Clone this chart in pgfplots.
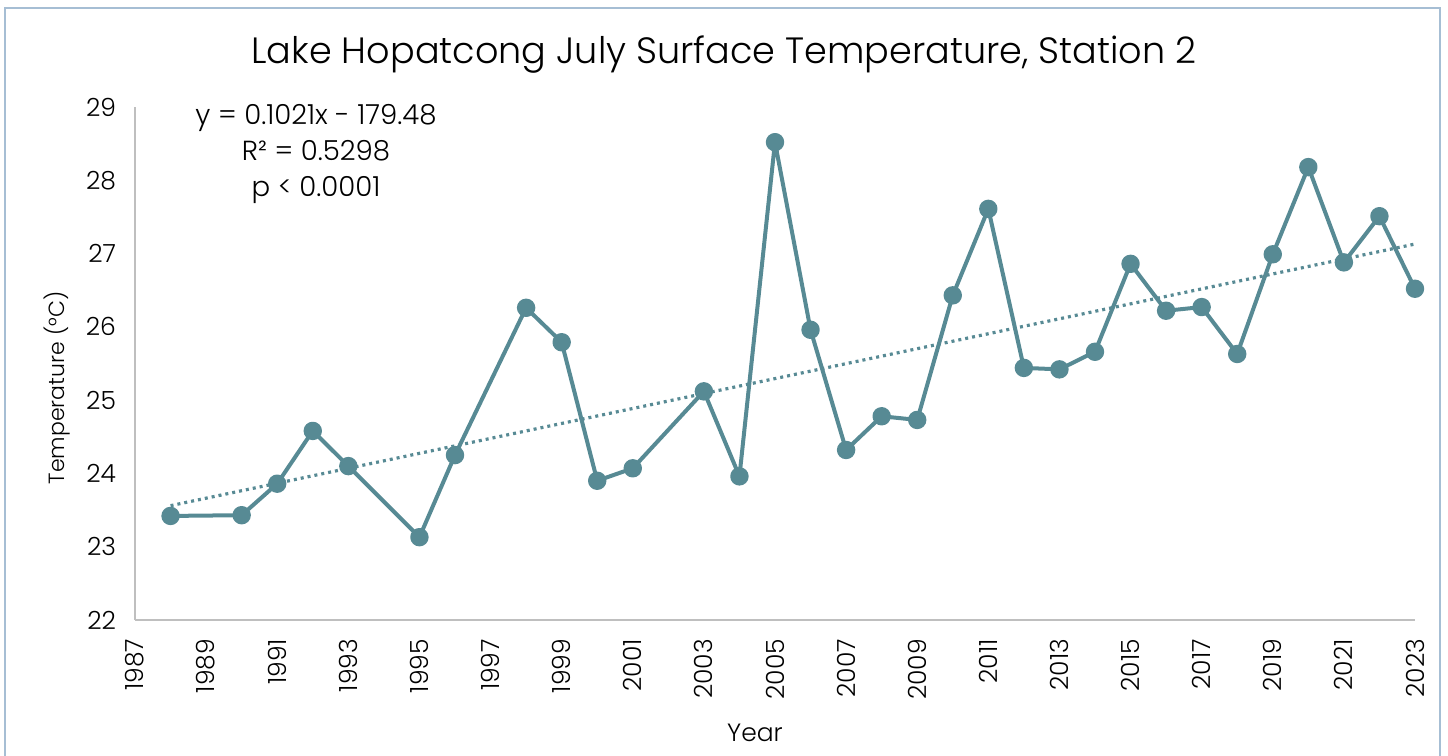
\documentclass[border=0pt]{standalone}
\usepackage{pgfplots}
\pgfplotsset{compat=1.18}
\usepackage{fontspec}
\setmainfont{Poppins}[UprightFont=* Light]
\definecolor{ser}{RGB}{87,138,148}
\definecolor{axg}{RGB}{191,191,191}
\definecolor{brd}{RGB}{166,190,212}
\begin{document}
\begin{tikzpicture}[x=1pt,y=1pt]
\path[use as bounding box] (0,0) rectangle (724,378);
\draw[brd,line width=1.2pt] (2.5,-5) -- (2.5,374) -- (720,374) -- (720,-5);
\begin{axis}[
  at={(67.5pt,68pt)}, anchor=south west,
  scale only axis, width=640pt, height=256.5pt,
  xmin=1987, xmax=2023, ymin=22, ymax=29,
  xtick={1987,1989,...,2023}, ytick={22,23,...,29},
  axis x line*=bottom, axis y line*=left,
  axis line style={axg, line width=0.8pt},
  major tick length=0pt,
  x tick label style={rotate=90, anchor=east, font=\fontsize{12.5}{14}\selectfont, xshift=-6pt},
  y tick label style={font=\fontsize{12.5}{14}\selectfont, xshift=-6pt},
  /pgf/number format/assume math mode=true,
  /pgf/number format/set thousands separator={},
  clip=false,
]
\addplot[ser, line width=2pt, line join=round, mark=*, mark size=3.6pt, mark options={fill=ser, draw=ser}] coordinates {
(1988,23.42) (1990,23.43) (1991,23.86) (1992,24.58) (1993,24.10) (1995,23.13)
(1996,24.25) (1998,26.26) (1999,25.79) (2000,23.90) (2001,24.07) (2003,25.12)
(2004,23.96) (2005,28.52) (2006,25.96) (2007,24.32) (2008,24.78) (2009,24.73)
(2010,26.43) (2011,27.61) (2012,25.44) (2013,25.42) (2014,25.66) (2015,26.86)
(2016,26.22) (2017,26.27) (2018,25.63) (2019,26.99) (2020,28.18) (2021,26.88)
(2022,27.51) (2023,26.52)
};
\addplot[ser, line width=1.6pt, dash pattern=on 1.5pt off 2pt, no marks] coordinates {(1988,23.56) (2023,27.13)};
\end{axis}
\node[font=\fontsize{18.3}{22}\selectfont] at (362,350.5) {Lake Hopatcong July Surface Temperature, Station 2};
\node[font=\fontsize{13.8}{18}\selectfont, align=center] at (158,301) {y = 0.1021x - 179.48\\R² = 0.5298\\p < 0.0001};
\node[font=\fontsize{11}{14}\selectfont, rotate=90] at (28.5,184) {Temperature (°C)};
\node[font=\fontsize{12.5}{14}\selectfont] at (377.5,11.5) {Year};
\end{tikzpicture}
\end{document}
